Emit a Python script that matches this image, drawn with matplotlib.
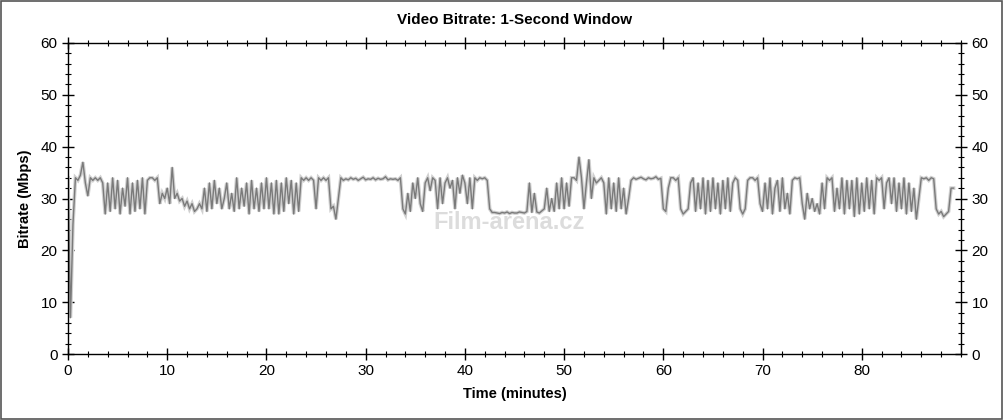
import numpy as np
import matplotlib
matplotlib.use("Agg")
import matplotlib.pyplot as plt
from matplotlib.patches import Rectangle
from matplotlib.ticker import MultipleLocator

plt.rcParams['font.family'] = ['Liberation Sans', 'DejaVu Sans']

step_minutes = 0.25
seg_0_28 = [34, 7, 25, 34,
            33.5, 34.5, 37, 33,
            30.5, 34, 33.5, 34,
            33.5, 34, 33, 27,
            33, 27.5, 34, 28,
            33.5, 27, 32, 28.5,
            34, 27, 33, 27.5,
            33.5, 28, 34, 27,
            33.5, 34, 34, 33.5,
            34, 29, 31, 30,
            32, 29, 36, 30,
            31, 29.5, 30, 28.5,
            29.5, 28, 29, 27.5,
            28, 29, 28, 32,
            27.5, 33, 28, 33.5,
            29, 32, 28, 30,
            33, 28, 31, 27.5,
            34, 28, 32, 28.5,
            33, 27, 33.5, 28,
            32, 27.5, 33, 28,
            34, 28, 33, 27,
            33.5, 27, 33, 27.5,
            34, 29, 33.5, 27,
            33, 27.5, 34, 33.5,
            34, 33.5, 34, 33.5,
            28, 34, 33.5, 34,
            33.5, 34, 28, 28.5,
            26, 30, 34, 33.5]
seg_28_33 = [33.8, 33.6, 34.0, 33.7, 33.9, 33.5, 33.8, 34.1, 33.6, 33.8,
             33.7, 34.0, 33.6, 33.9, 33.7, 33.8, 34.2, 33.6, 33.8, 33.7]
seg_33_43 = [33.8, 33.5, 34, 28,
             27, 31, 27.5, 33,
             30, 34, 29, 27.5,
             33, 34, 31.5, 34,
             33.5, 28, 34, 29,
             33, 34, 32, 33.5,
             28, 34, 31, 34.5,
             33, 29, 34, 28,
             34, 33.5, 34, 33.8,
             34, 33.5, 28, 27.3]
seg_43_48 = [27.3, 27.2, 27.1, 27.3, 27.2, 27.4, 27.1, 27.3, 27.2, 27.2,
             27.4, 27.3, 27.2, 27.5, 33, 27.3, 31, 27.4, 27.2, 27.6]
seg_48_57 = [28, 32, 27.5, 30,
             27.5, 33, 28, 34,
             28, 33, 28.5, 34,
             34, 33.5, 38, 34,
             28, 33, 37.5, 30,
             34, 33, 33.5, 34,
             33, 27, 34, 28,
             33, 27.5, 34, 28,
             32, 27, 30, 33.5]
seg_57_60 = [34, 33.7, 33.9, 34.1, 33.8, 33.6, 34, 33.8, 33.9, 34.2, 33.7, 33.9]
seg_60_89 = [28, 27.5, 32, 34,
             34, 33.5, 34, 28,
             27, 27.5, 28, 33,
             34, 27.5, 33, 28,
             34, 27, 33.5, 27.5,
             34, 28, 33, 27,
             33.5, 28, 34, 27.5,
             33, 34, 33.5, 28,
             27, 28, 33.5, 34,
             34, 33.5, 34, 29,
             27.5, 33, 28, 34,
             27, 32, 33.5, 27.5,
             34, 28, 31, 27,
             33.5, 34, 33.8, 34,
             29, 26, 31, 28,
             30, 27.5, 29, 27,
             33, 28, 34, 33.5,
             34, 27.5, 32, 28,
             34, 27, 33.5, 28,
             33.5, 26.5, 34, 27,
             33, 27.5, 34, 28,
             33.5, 27, 34, 33.5,
             34, 28, 33, 34,
             29, 34, 27.5, 33,
             28, 34, 27, 33,
             27.5, 32, 26, 30,
             34, 33.8, 34, 33.5,
             34, 33.8, 28, 27,
             27.5, 26.5, 27, 27.5,
             32, 32]

bitrate = np.array(seg_0_28 + seg_28_33 + seg_33_43 + seg_43_48 +
                   seg_48_57 + seg_57_60 + seg_60_89, dtype=float)
minutes = np.arange(len(bitrate)) * step_minutes

x_ticks = [0, 10, 20, 30, 40, 50, 60, 70, 80]
y_ticks = [0, 10, 20, 30, 40, 50, 60]

W, H = 1004, 420
fig = plt.figure(figsize=(W / 100, H / 100), dpi=100)
fig.patches.append(Rectangle((0.001, 0.002), 0.997, 0.995, transform=fig.transFigure,
                             fill=False, edgecolor='#555555', linewidth=1.2))

ax = fig.add_axes([68 / W, 1 - 354 / H, (961 - 68) / W, (354 - 43) / H])

ax.plot(minutes, bitrate, color='#d0d0d0', linewidth=2.6, solid_joinstyle='miter')
ax.plot(minutes, bitrate, color='#7a7a7a', linewidth=1.0)

ax.text(44.5, 25.3, 'Film-arena.cz', fontsize=17, fontweight='bold', color='#dcdcdc',
        ha='center', va='center', zorder=0.5)

ax.set_xlim(0, 90)
ax.set_ylim(0, 60)
ax.set_xticks(x_ticks)
ax.set_yticks(y_ticks)
ax.xaxis.set_minor_locator(MultipleLocator(2))
ax.yaxis.set_minor_locator(MultipleLocator(2))
ax.tick_params(which='major', direction='inout', length=9, width=1,
               top=True, right=True, labelright=True, labelsize=11, pad=3)
ax.tick_params(which='minor', direction='inout', length=5, width=0.8,
               top=True, right=True)
for s in ax.spines.values():
    s.set_linewidth(1.0)

ax.set_title('Video Bitrate: 1-Second Window', fontsize=11, fontweight='bold', pad=14)
ax.set_xlabel('Time (minutes)', fontsize=10.5, fontweight='bold', labelpad=6)
ax.set_ylabel('Bitrate (Mbps)', fontsize=10.5, fontweight='bold', labelpad=6)

fig.savefig('out.png', dpi=100)
